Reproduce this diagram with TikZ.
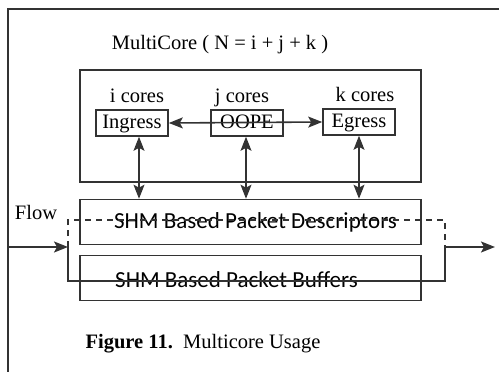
\documentclass[tikz,border=0pt]{standalone}
\usepackage{fontspec}
\setmainfont{Liberation Serif}
\newfontfamily\shmfont{Carlito}
\usetikzlibrary{positioning, arrows.meta}

\begin{document}
\begin{tikzpicture}[
    x=1pt, y=-1pt,
    line width=1.6pt, draw=black!80,
    >={Stealth[length=14pt, width=11pt, inset=3pt]},
    box/.style={draw, rectangle, inner sep=0pt, anchor=center},
    corebox/.style={box, minimum width=72pt, minimum height=26pt, text height=14pt, text depth=3pt, font=\fontsize{20.5}{24}\selectfont},
    shmbox/.style={box, minimum width=341pt, minimum height=45pt},
    shmtext/.style={font=\shmfont\fontsize{23}{26}\selectfont, inner sep=0pt},
    lbl/.style={font=\fontsize{20.5}{24}\selectfont, inner sep=0pt, text height=14pt, text depth=4pt},
    arrow/.style={->},
    dblarrow/.style={<->}
]
\useasboundingbox (0,0) rectangle (499,372);

% Frame
\draw (499,9) -- (8,9) -- (8,372);

% MultiCore block
\node[lbl] (title) at (220,44) {MultiCore ( N = i + j + k )};
\node[box, minimum width=341pt, minimum height=112pt] (multicore) at (250.5,126) {};

% Cores
\node[corebox] (ingress) at (132,123) {Ingress};
\node[corebox] (oope) at (247,123) {OOPE};
\node[corebox] (egress) at (359,122) {Egress};

\node[lbl, above=2pt of ingress, xshift=5pt] (icores) {i cores};
\node[lbl, above=2pt of oope, xshift=-5pt] (jcores) {j cores};
\node[lbl, above=2pt of egress, xshift=6pt] (kcores) {k cores};

% Shared memory
\node[shmbox] (desc) at (250.5,222) {};
\node[shmbox] (buf) at (250.5,278) {};
\node[shmtext] (desctext) at ([xshift=5pt]desc.center) {SHM Based Packet Descriptors};
\node[shmtext] (buftext) at ([xshift=-14pt, yshift=-2pt]buf.center) {SHM Based Packet Buffers};

% Arrows
\draw[dblarrow] (ingress.east) -- (egress.west);
\draw[dblarrow] ([xshift=7pt]ingress.south) -- ([xshift=7pt]ingress.south |- desc.north);
\draw[dblarrow] ([xshift=-1pt]oope.south) -- ([xshift=-1pt]oope.south |- desc.north);
\draw[dblarrow] (egress.south) -- (egress.south |- desc.north);

% Flow
\node[lbl] (flow) at (36,214) {Flow};
\coordinate (flowin) at (8,247);
\coordinate (fl) at (68,247);
\coordinate (fr) at (445,247);
\coordinate (flowout) at (495,247);
\draw[arrow] (flowin) -- (fl);
\draw (fl) -- (68,281) -- (445,281) -- (fr);
\draw[dash pattern=on 6pt off 5pt] (fl) -- (68,220) -- (445,220) -- (fr);
\draw[arrow] (fr) -- (flowout);

% Caption
\node[lbl] (caption) at (203,343) {\textbf{Figure 11.}\ \ Multicore Usage};
\end{tikzpicture}
\end{document}
